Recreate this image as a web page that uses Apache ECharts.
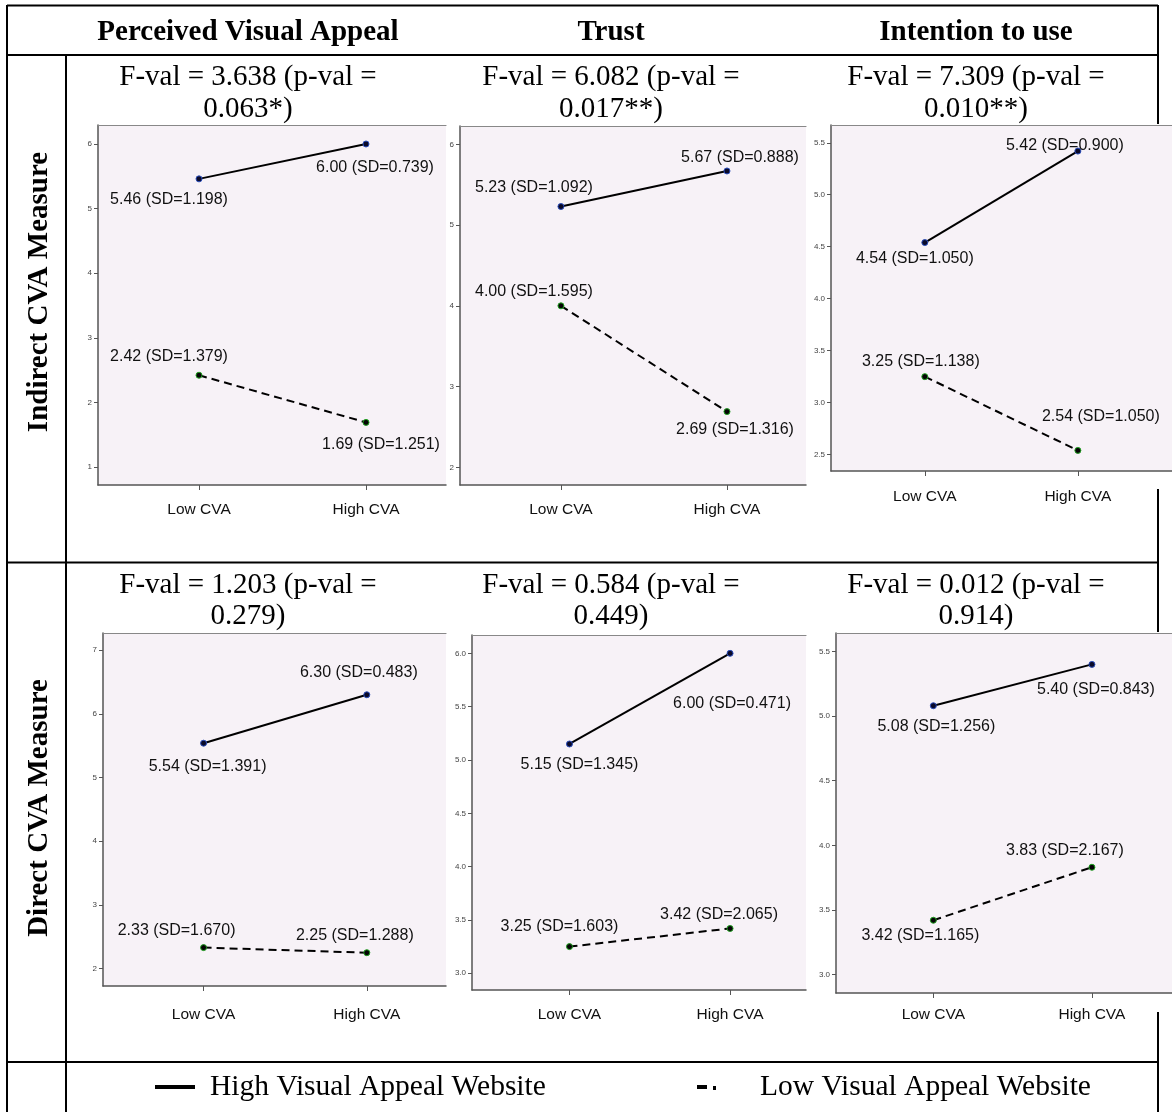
<!DOCTYPE html>
<html>
<head>
<meta charset="utf-8">
<script src="https://cdn.jsdelivr.net/npm/echarts@6/dist/echarts.min.js"></script>
<style>
  html, body { margin: 0; padding: 0; background: #fff; }
  #chart { width: 1172px; height: 1112px; }
</style>
</head>
<body>
<div id="chart"></div>
<script>
// ---------- data ----------
const categories = ['Low CVA', 'High CVA'];
const measures = ['Perceived Visual Appeal', 'Trust', 'Intention to use'];
const rowLabels = ['Indirect CVA Measure', 'Direct CVA Measure'];
const fTitles = [
  ['F-val = 3.638 (p-val =', '0.063*)'],
  ['F-val = 6.082 (p-val =', '0.017**)'],
  ['F-val = 7.309 (p-val =', '0.010**)'],
  ['F-val = 1.203 (p-val =', '0.279)'],
  ['F-val = 0.584 (p-val =', '0.449)'],
  ['F-val = 0.012 (p-val =', '0.914)']
];
const legendNames = ['High Visual Appeal Website', 'Low Visual Appeal Website'];
const highMeans = [[5.46, 6.00], [5.23, 5.67], [4.54, 5.42], [5.54, 6.30], [5.15, 6.00], [5.08, 5.40]];
const highSD    = [[1.198, 0.739], [1.092, 0.888], [1.050, 0.900], [1.391, 0.483], [1.345, 0.471], [1.256, 0.843]];
const lowMeans  = [[2.42, 1.69], [4.00, 2.69], [3.25, 2.54], [2.33, 2.25], [3.25, 3.42], [3.42, 3.83]];
const lowSD     = [[1.379, 1.251], [1.595, 1.316], [1.138, 1.050], [1.670, 1.288], [1.603, 2.065], [1.165, 2.167]];
const yTicks = [
  [1, 2, 3, 4, 5, 6],
  [2, 3, 4, 5, 6],
  [2.5, 3, 3.5, 4, 4.5, 5, 5.5],
  [2, 3, 4, 5, 6, 7],
  [3, 3.5, 4, 4.5, 5, 5.5, 6],
  [3, 3.5, 4, 4.5, 5, 5.5]
];
const yDecimals = [0, 0, 1, 0, 1, 1];

// ---------- layout (pixels / axis extents) ----------
const panels = [
  { box: [98, 125, 446, 485],  y: [0.721, 6.294], x: [-0.605, 1.479], labelY: 510 },
  { box: [460, 126, 806, 485], y: [1.781, 6.227], x: [-0.608, 1.476], labelY: 510 },
  { box: [831, 125, 1180, 471], y: [2.342, 5.671], x: [-0.613, 1.615], labelY: 497 },
  { box: [103, 633, 446, 986], y: [1.727, 7.27],  x: [-0.616, 1.485], labelY: 1015 },
  { box: [472, 635, 806, 990], y: [2.843, 6.172], x: [-0.607, 1.473], labelY: 1015 },
  { box: [836, 633, 1180, 993], y: [2.857, 5.643], x: [-0.614, 1.505], labelY: 1015 }
];
// label offsets [dx, dy] : high(low cva, high cva), low(low cva, high cva)
const highOffsets = [
  [[-30, 21], [9, 24]], [[-27, -19], [13, -13]], [[-10, 16], [-13, -5]],
  [[4, 23], [-8, -22]], [[10, 21], [2, 50]], [[3, 21], [4, 25]]
];
const lowOffsets = [
  [[-30, -19], [15, 22]], [[-27, -14], [8, 18]], [[-4, -15], [23, -34]],
  [[-27, -17], [-12, -17]], [[-10, -20], [-11, -14]], [[-13, 15], [-27, -17]]
];
const colCenters = [248, 611, 976];
const rowTitleY = [[77, 109], [585, 616]];

// ---------- build ----------
const W = 1172, H = 1112;
const AX = '#555';
const grids = [], xAxes = [], yAxes = [], series = [];
panels.forEach((p, i) => {
  const [x0, y0, x1, y1] = p.box;
  grids.push({
    left: x0, top: y0, width: x1 - x0, height: y1 - y0,
    show: true, borderWidth: 0, backgroundColor: '#f7f2f7', containLabel: false
  });
  xAxes.push({
    type: 'value', gridIndex: i, min: p.x[0], max: p.x[1], position: 'bottom',
    splitLine: { show: false },
    axisLine: { show: true, onZero: false, lineStyle: { color: AX, width: 1.5 } },
    axisTick: { show: true, customValues: [0, 1], length: 5, lineStyle: { color: AX } },
    axisLabel: {
      show: true, customValues: [0, 1], margin: p.labelY - p.box[3] - 8,
      formatter: v => categories[Math.round(v)] || '',
      fontFamily: 'Liberation Sans', fontSize: 15.5, color: '#111'
    }
  });
  xAxes.push({
    type: 'value', gridIndex: i, min: p.x[0], max: p.x[1], position: 'top',
    splitLine: { show: false },
    axisLine: { show: true, onZero: false, lineStyle: { color: '#888', width: 1.2 } },
    axisTick: { show: false }, axisLabel: { show: false }
  });
  yAxes.push({
    type: 'value', gridIndex: i, min: p.y[0], max: p.y[1],
    splitLine: { show: false },
    axisLine: { show: true, onZero: false, lineStyle: { color: AX, width: 1.5 } },
    axisTick: { show: true, customValues: yTicks[i], length: 4, lineStyle: { color: AX } },
    axisLabel: {
      show: true, customValues: yTicks[i], margin: 6,
      formatter: v => Number(v).toFixed(yDecimals[i]),
      fontFamily: 'Liberation Sans', fontSize: 8, color: '#444'
    }
  });
  const mk = (means, sds, offs) => means[i].map((v, j) => ({
    value: [j, v],
    label: { offset: offs[i][j] },
    sd: sds[i][j]
  }));
  const labelCfg = {
    show: true, position: 'inside', align: 'center', verticalAlign: 'middle',
    fontFamily: 'Liberation Sans', fontSize: 16, color: '#111',
    formatter: prm => prm.value[1].toFixed(2) + ' (SD=' + prm.data.sd.toFixed(3) + ')'
  };
  series.push({
    name: legendNames[0], type: 'line', xAxisIndex: 2 * i, yAxisIndex: i,
    data: mk(highMeans, highSD, highOffsets),
    symbol: 'circle', symbolSize: 6,
    itemStyle: { color: '#0a0a2a', borderColor: '#2a4dbb', borderWidth: 1 },
    lineStyle: { color: '#000', width: 2, type: 'solid' },
    label: labelCfg, z: 5
  });
  series.push({
    name: legendNames[1], type: 'line', xAxisIndex: 2 * i, yAxisIndex: i,
    data: mk(lowMeans, lowSD, lowOffsets),
    symbol: 'circle', symbolSize: 6,
    itemStyle: { color: '#050505', borderColor: '#1fa01f', borderWidth: 1 },
    lineStyle: { color: '#000', width: 2, type: [8, 5] },
    label: labelCfg, z: 5
  });
});

// table lines & texts
const LW = 2;
const line = (x1, y1, x2, y2) => ({
  type: 'line', shape: { x1, y1, x2, y2 }, style: { stroke: '#000', lineWidth: LW }, z: 1, silent: true
});
const serif = (size, bold) => (bold ? 'bold ' : '') + size + 'px "Liberation Serif", "Times New Roman", serif';
const txt = (x, y, text, font, align) => ({
  type: 'text', x, y, z: 10, silent: true,
  style: { text, font, fill: '#000', textAlign: align || 'center', textVerticalAlign: 'middle' }
});

const graphics = [
  line(7, 5.5, 1158, 5.5),
  line(7, 55, 1158, 55),
  line(7, 562.5, 1158, 562.5),
  line(7, 1062, 1158, 1062),
  line(7, 5, 7, H),
  line(66, 55, 66, H),
  line(1158, 5, 1158, 124),
  line(1158, 489, 1158, 632),
  line(1158, 1012, 1158, H)
];
measures.forEach((m, c) => graphics.push(txt(colCenters[c], 33, m, serif(29, true))));
rowLabels.forEach((r, k) => {
  const t = txt(40, k === 0 ? 292 : 808, r, serif(29, true));
  t.rotation = Math.PI / 2;
  graphics.push(t);
});
fTitles.forEach((t, i) => {
  const c = i % 3, r = Math.floor(i / 3);
  graphics.push(txt(colCenters[c], rowTitleY[r][0], t[0], serif(29, false)));
  graphics.push(txt(colCenters[c], rowTitleY[r][1], t[1], serif(29, false)));
});
// legend
graphics.push({ type: 'rect', shape: { x: 155, y: 1085, width: 40, height: 4 }, style: { fill: '#000' }, z: 10 });
graphics.push(txt(210, 1087, legendNames[0], serif(29.5, false), 'left'));
graphics.push({ type: 'rect', shape: { x: 697, y: 1085, width: 10, height: 4 }, style: { fill: '#000' }, z: 10 });
graphics.push({ type: 'rect', shape: { x: 713, y: 1086, width: 3, height: 4 }, style: { fill: '#000' }, z: 10 });
graphics.push(txt(760, 1087, legendNames[1], serif(29.5, false), 'left'));

const chart = echarts.init(document.getElementById('chart'), null, { renderer: 'canvas', width: W, height: H });
chart.setOption({
  animation: false,
  backgroundColor: '#fff',
  grid: grids,
  xAxis: xAxes,
  yAxis: yAxes,
  series: series,
  graphic: { elements: graphics }
});
</script>
</body>
</html>
